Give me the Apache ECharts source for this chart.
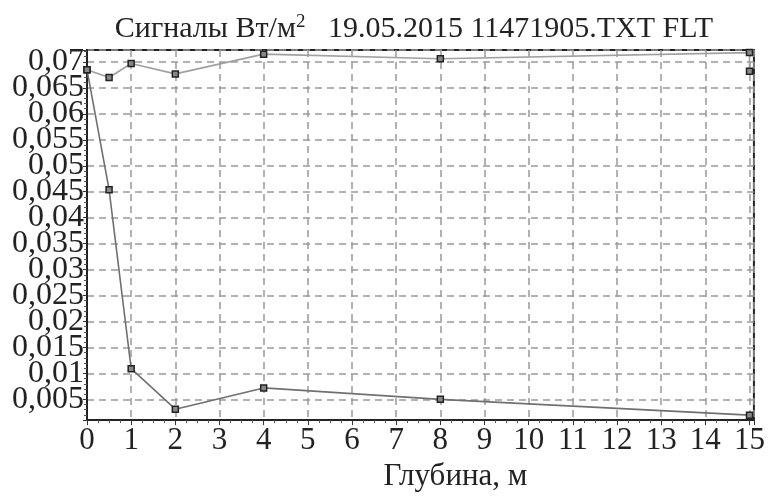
<!DOCTYPE html>
<html>
<head>
<meta charset="utf-8">
<script src="https://cdn.jsdelivr.net/npm/echarts@6/dist/echarts.min.js"></script>
<style>html,body{margin:0;padding:0;background:#fff}#c{width:768px;height:497px}</style>
</head>
<body>
<div id="c"></div>
<script>
var depth = [0, 0.5, 1, 2, 4, 8, 15, 15];
var upperSignal = [0.0685, 0.0670, 0.0697, 0.0677, 0.0715, 0.0706, 0.0718, 0.0682];
var depth2 = [0, 0.5, 1, 2, 4, 8, 15];
var lowerSignal = [0.0685, 0.0454, 0.0109, 0.0031, 0.0072, 0.0050, 0.00195];
var titleText = 'Сигналы Вт/м{sup|2}   19.05.2015 11471905.TXT FLT';
var xName = 'Глубина, м';

function pairs(xs, ys) { return xs.map(function (x, i) { return [x, ys[i]]; }); }
var FONT = "'Liberation Serif', 'Times New Roman', serif";
var chart = echarts.init(document.getElementById('c'), null, {renderer: 'canvas'});
chart.setOption({
  animation: false,
  backgroundColor: '#fff',
  textStyle: { fontFamily: FONT },
  title: {
    text: titleText,
    left: 409, top: 8, textAlign: 'center',
    textStyle: {
      fontFamily: FONT, fontSize: 30, fontWeight: 'normal', color: '#222',
      rich: { sup: { fontFamily: FONT, fontSize: 19, color: '#222', verticalAlign: 'top', padding: [0, 0, 14, 0] } }
    }
  },
  grid: { left: 87, right: 9, top: 50, bottom: 74, show: true, borderColor: '#222', borderWidth: 2 },
  xAxis: {
    type: 'value', min: 0, max: 15.1, interval: 1,
    name: xName, nameLocation: 'middle', nameGap: 40,
    nameTextStyle: { fontFamily: FONT, fontSize: 31, color: '#222', padding: [0, 0, 0, 70] },
    axisLine: { show: true, lineStyle: { color: '#222', width: 2 } },
    axisTick: { show: true, length: 5, lineStyle: { color: '#333' } },
    minorTick: { show: true, splitNumber: 4, length: 3, lineStyle: { color: '#555' } },
    axisLabel: {
      fontFamily: FONT, fontSize: 31, color: '#222', margin: 5,
      formatter: function (v) { return v > 15.01 ? '' : String(Math.round(v)); }
    },
    splitLine: { show: true, lineStyle: { color: '#999', width: 1.5, type: [7, 5] } }
  },
  yAxis: {
    type: 'value', min: 0.001, max: 0.0723, splitNumber: 14,
    axisLine: { show: true, lineStyle: { color: '#222', width: 2 } },
    axisTick: { show: true, length: 4, lineStyle: { color: '#333' } },
    minorTick: { show: true, splitNumber: 5, length: 3, lineStyle: { color: '#555' } },
    axisLabel: {
      fontFamily: FONT, fontSize: 32, color: '#222', margin: 3,
      formatter: function (v) {
        var k = Math.round(v / 0.005);
        if (Math.abs(v - k * 0.005) > 1e-7 || k < 1 || k > 14) return '';
        return String(+(k * 0.005).toFixed(3)).replace('.', ',');
      }
    },
    splitLine: { show: true, lineStyle: { color: '#999', width: 1.5, type: [7, 5] } }
  },
  series: [
    {
      type: 'line', data: pairs(depth, upperSignal),
      symbol: 'rect', symbolSize: 6, showAllSymbol: true,
      lineStyle: { color: '#a0a0a0', width: 1.6 },
      itemStyle: { color: '#888', borderColor: '#222', borderWidth: 1.5 }
    },
    {
      type: 'line', data: pairs(depth2, lowerSignal),
      symbol: 'rect', symbolSize: 6, showAllSymbol: true,
      lineStyle: { color: '#707070', width: 1.6 },
      itemStyle: { color: '#888', borderColor: '#222', borderWidth: 1.5 }
    }
  ]
});
</script>
</body>
</html>
